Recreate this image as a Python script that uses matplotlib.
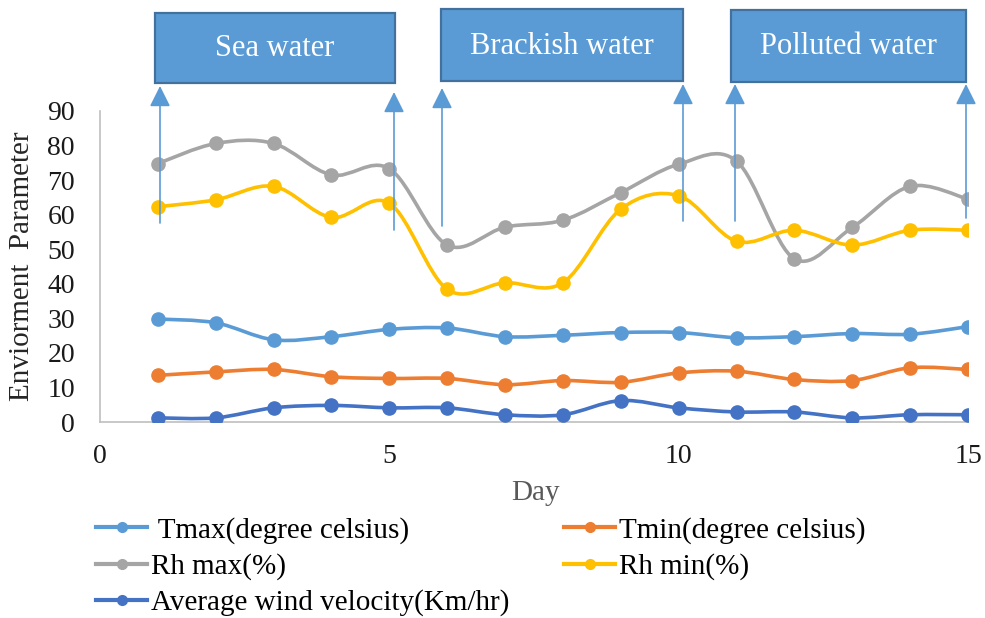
import numpy as np
import matplotlib
matplotlib.use("Agg")
import matplotlib.pyplot as plt
from matplotlib.path import Path
from matplotlib.patches import PathPatch, Rectangle, FancyArrowPatch
from matplotlib.lines import Line2D

plt.rcParams['font.family'] = ['Liberation Serif', 'DejaVu Serif']

days = list(range(1, 16))
tmax = [29.8, 28.7, 23.8, 24.7, 26.8, 27.2, 24.7, 25.1, 25.9, 25.9, 24.4, 24.7, 25.6, 25.4, 27.6]
tmin = [13.5, 14.5, 15.2, 13.1, 12.6, 12.6, 10.8, 12.0, 11.5, 14.2, 14.7, 12.3, 12.0, 15.7, 15.2]
rh_max = [74.8, 80.6, 80.6, 71.5, 73.3, 51.2, 56.4, 58.4, 66.4, 74.6, 75.5, 47.2, 56.3, 68.2, 64.5]
rh_min = [62.3, 64.3, 68.2, 59.2, 63.3, 38.4, 40.3, 40.3, 61.6, 65.5, 52.3, 55.5, 51.2, 55.5, 55.5]
wind = [1.2, 1.2, 4.1, 4.8, 4.1, 4.1, 2.1, 2.1, 6.2, 4.1, 2.9, 2.9, 1.2, 2.1, 2.1]

series = [
    (" Tmax(degree celsius)", tmax, "#5B9BD5"),
    ("Tmin(degree celsius)", tmin, "#ED7D31"),
    ("Rh max(%)", rh_max, "#A5A5A5"),
    ("Rh min(%)", rh_min, "#FFC000"),
    ("Average wind velocity(Km/hr)", wind, "#4472C4"),
]

boxes = ["Sea water", "Brackish water", "Polluted water"]

W, H = 985, 618


def fx(px):
    return px / W


def fy(py):
    return 1 - py / H


def smooth_path(x, y, t=1 / 6):
    # excel-like smoothed line as cubic bezier segments
    pts = np.column_stack([x, y]).astype(float)
    n = len(pts)
    verts = [pts[0]]
    codes = [Path.MOVETO]
    for i in range(n - 1):
        p0 = pts[max(i - 1, 0)]
        p1 = pts[i]
        p2 = pts[i + 1]
        p3 = pts[min(i + 2, n - 1)]
        c1 = p1 + (p2 - p0) * t
        c2 = p2 - (p3 - p1) * t
        verts += [c1, c2, p2]
        codes += [Path.CURVE4] * 3
    return Path(verts, codes)


fig = plt.figure(figsize=(9.85, 6.18), dpi=100)
ax = fig.add_axes([fx(100), fy(422), fx(968) - fx(100), fy(111) - fy(422)])

for label, vals, color in series:
    ax.add_patch(PathPatch(smooth_path(days, vals), facecolor="none",
                           edgecolor=color, lw=2.6, zorder=3))
    ax.plot(days, vals, ls="none", marker="o", ms=9.5, color=color, zorder=4)

ax.set_xlim(0, 15)
ax.set_ylim(0, 90)
ax.set_xticks([0, 5, 10, 15])
ax.set_yticks(range(0, 100, 10))
ax.tick_params(length=0, labelsize=20, colors="#1a1a1a")
ax.tick_params(axis="x", pad=16)
ax.tick_params(axis="y", pad=18)
for s in ["top", "right"]:
    ax.spines[s].set_visible(False)
for s in ["left", "bottom"]:
    ax.spines[s].set_color("#BFBFBF")
    ax.spines[s].set_linewidth(1.2)

fig.text(fx(22), fy(266), "Enviorment  Parameter", rotation=90,
         ha="center", va="center", fontsize=21, color="#262626")
fig.text(fx(535), fy(493), "Day", ha="center", va="center",
         fontsize=21, color="#595959")

# legend in two columns
handles = [Line2D([], [], color=c, lw=3, marker="o", ms=7) for _, _, c in series]
labels = [s[0] for s in series]
kw = dict(frameon=False, fontsize=21, handlelength=1.75, handletextpad=0.14,
          labelspacing=0.32, borderpad=0, borderaxespad=0, loc="upper left")
leg1 = fig.legend([handles[0], handles[2], handles[4]],
                  [labels[0], labels[2], labels[4]],
                  bbox_to_anchor=(fx(96), fy(517)), **kw)
leg2 = fig.legend([handles[1], handles[3]], [labels[1], labels[3]],
                  bbox_to_anchor=(fx(564), fy(517)), **kw)

# region boxes
box_px = [(155, 13, 395, 83), (441, 9, 683, 81), (731, 10, 966, 82)]
for text, (x0, y0, x1, y1) in zip(boxes, box_px):
    fig.patches.append(Rectangle((fx(x0), fy(y1)), fx(x1) - fx(x0), fy(y0) - fy(y1),
                                 transform=fig.transFigure, facecolor="#5B9BD5",
                                 edgecolor="#41719C", lw=1.6, zorder=5))
    fig.text(fx((x0 + x1) / 2), fy((y0 + y1) / 2 + 1), text, ha="center", va="center",
             fontsize=22, color="white", zorder=6)

# arrows up to the boxes
arrow_px = [(160, 223, 86), (394, 230, 92), (442, 226, 88),
            (683, 221, 84), (735, 221, 84), (966, 218, 84)]
for x, yb, yt in arrow_px:
    fig.add_artist(FancyArrowPatch(
        (fx(x), fy(yb)), (fx(x), fy(yt)), transform=fig.transFigure,
        arrowstyle="-|>,head_length=0.9,head_width=0.45", mutation_scale=14,
        color="#5B9BD5", lw=1.2, shrinkA=0, shrinkB=0, zorder=6))

fig.savefig("out.png", dpi=100)
